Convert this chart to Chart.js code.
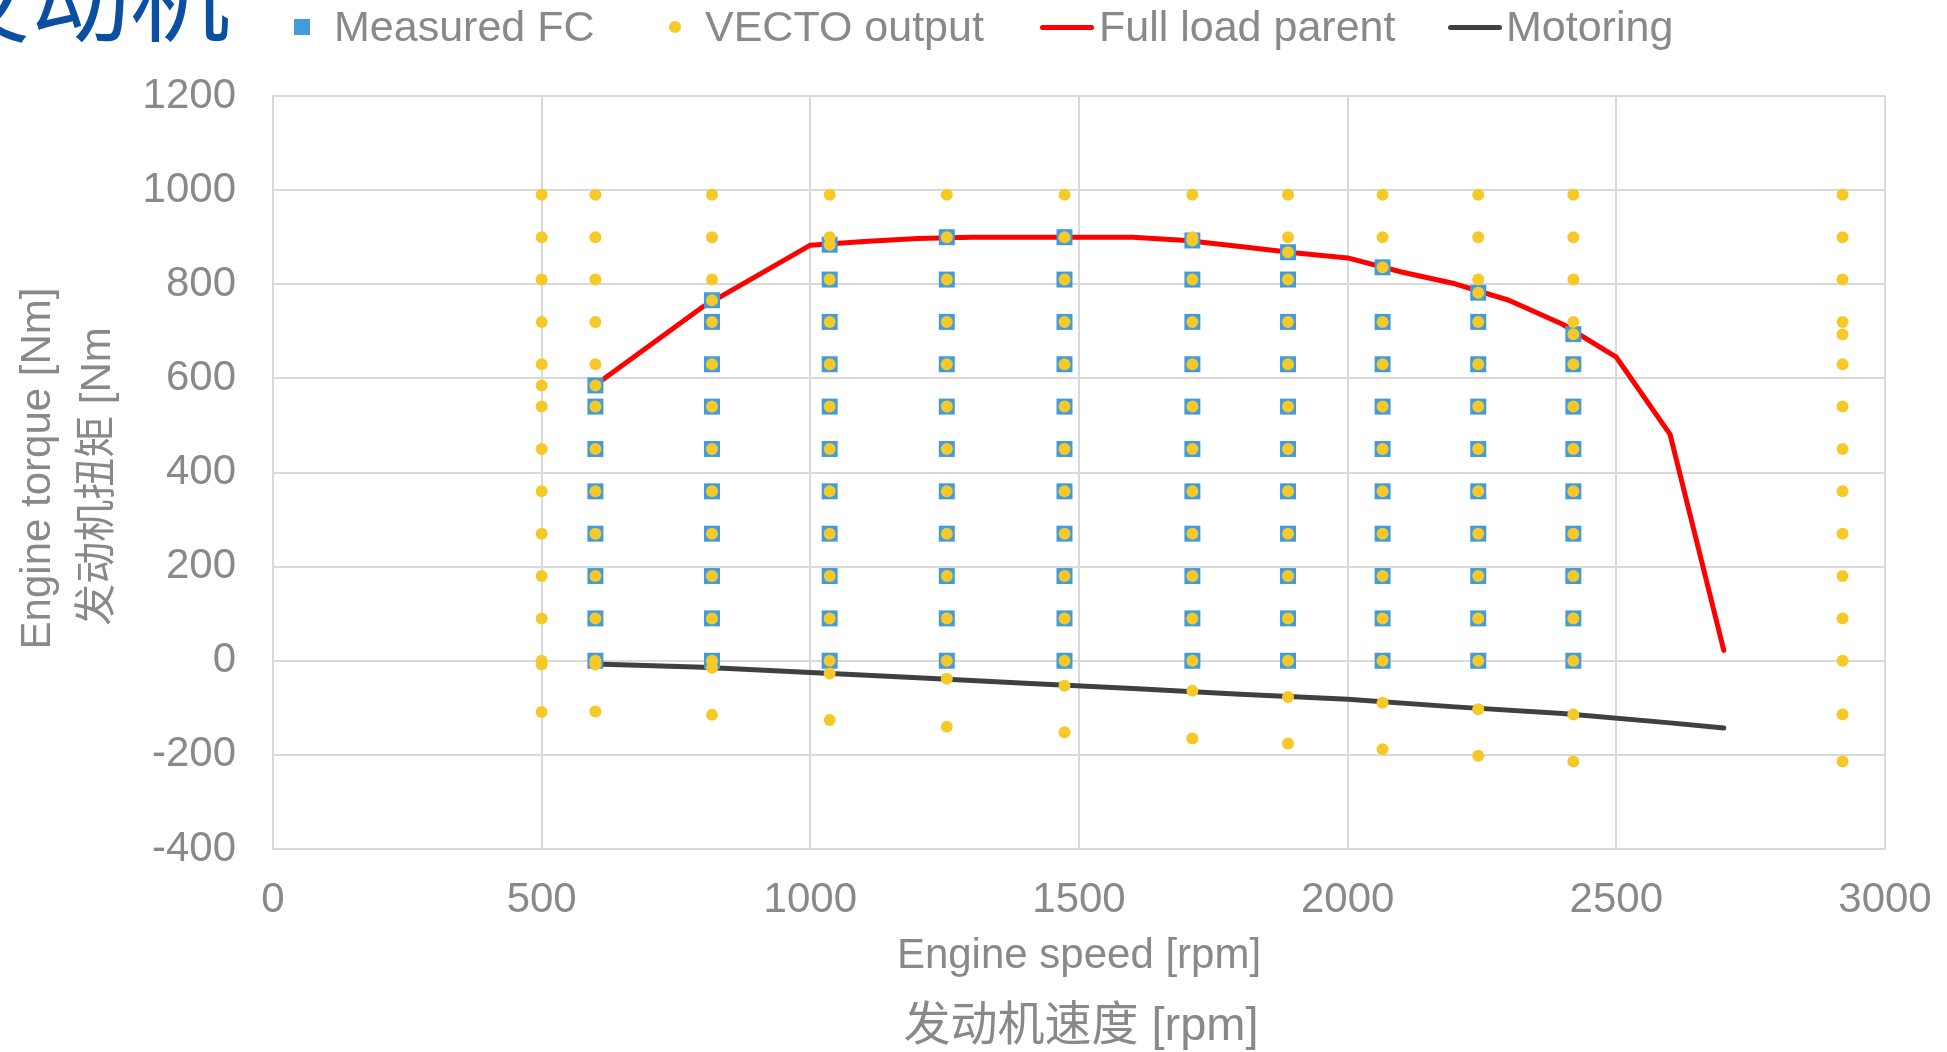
<!DOCTYPE html>
<html>
<head>
<meta charset="utf-8">
<script src="https://cdn.jsdelivr.net/npm/chart.js@4.4.1/dist/chart.umd.min.js"></script>
<style>
  html, body { margin: 0; padding: 0; background: #ffffff; overflow: hidden; }
  #wrap { position: relative; width: 1947px; height: 1052px; overflow: hidden; }
  #c { position: absolute; left: 0; top: 0; }
  .lg { position: absolute; font-family: 'Liberation Sans', Arial, sans-serif; font-size: 43px; line-height: 43px; color: #898989; white-space: nowrap; }
  .mk { position: absolute; }
  #ttl { position: absolute; left: -70px; top: -59px; font-family: 'Noto Sans CJK SC', sans-serif; font-size: 100px; line-height: 100px; color: #0B4FA3; white-space: nowrap; }
</style>
</head>
<body>
<div id="wrap">
  <canvas id="c" width="1947" height="1052"></canvas>
  <div id="ttl">发动机</div>
  <div class="mk" style="left:294px;top:19px;width:16px;height:16px;background:#419BDC;"></div>
  <div class="lg" style="left:334px;top:5px;">Measured FC</div>
  <div class="mk" style="left:669px;top:21px;width:12px;height:12px;border-radius:50%;background:#F6C929;"></div>
  <div class="lg" style="left:705px;top:5px;">VECTO output</div>
  <div class="mk" style="left:1040px;top:25px;width:54px;height:5px;border-radius:3px;background:#FF0000;"></div>
  <div class="lg" style="left:1099px;top:5px;">Full load parent</div>
  <div class="mk" style="left:1448px;top:25px;width:54px;height:5px;border-radius:3px;background:#404040;"></div>
  <div class="lg" style="left:1506px;top:5px;">Motoring</div>
</div>
<script>
// ---- data ----
const vectoSpeeds = [500, 600, 817, 1036, 1254, 1473, 1711, 1889, 2065, 2243, 2420, 2921];
const vectoTorques = [
  [-109, -8, 0, 90, 180, 270, 360, 450, 540, 585, 630, 720, 810, 900, 990],
  [-108, -8, 0, 90, 180, 270, 360, 450, 540, 585, 630, 720, 810, 900, 990],
  [-115, -15, 0, 90, 180, 270, 360, 450, 540, 630, 720, 766, 810, 900, 990],
  [-126, -27, 0, 90, 180, 270, 360, 450, 540, 630, 720, 810, 884, 900, 990],
  [-140, -38, 0, 90, 180, 270, 360, 450, 540, 630, 720, 810, 900, 990],
  [-152, -53, 0, 90, 180, 270, 360, 450, 540, 630, 720, 810, 900, 990],
  [-165, -64, 0, 90, 180, 270, 360, 450, 540, 630, 720, 810, 893, 900, 990],
  [-176, -77, 0, 90, 180, 270, 360, 450, 540, 630, 720, 810, 868, 900, 990],
  [-188, -89, 0, 90, 180, 270, 360, 450, 540, 630, 720, 836, 900, 990],
  [-202, -103, 0, 90, 180, 270, 360, 450, 540, 630, 720, 782, 810, 900, 990],
  [-214, -114, 0, 90, 180, 270, 360, 450, 540, 630, 694, 720, 810, 900, 990],
  [-214, -114, 0, 90, 180, 270, 360, 450, 540, 630, 693, 720, 810, 900, 990]
];
const measuredSpeeds = [600, 817, 1036, 1254, 1473, 1711, 1889, 2065, 2243, 2420];
const measuredTorques = [
  [0, 90, 180, 270, 360, 450, 540, 585],
  [0, 90, 180, 270, 360, 450, 540, 630, 720, 766],
  [0, 90, 180, 270, 360, 450, 540, 630, 720, 810, 884],
  [0, 90, 180, 270, 360, 450, 540, 630, 720, 810, 900],
  [0, 90, 180, 270, 360, 450, 540, 630, 720, 810, 900],
  [0, 90, 180, 270, 360, 450, 540, 630, 720, 810, 893],
  [0, 90, 180, 270, 360, 450, 540, 630, 720, 810, 868],
  [0, 90, 180, 270, 360, 450, 540, 630, 720, 836],
  [0, 90, 180, 270, 360, 450, 540, 630, 720, 782],
  [0, 90, 180, 270, 360, 450, 540, 630, 694]
];
const fullLoadSpeed  = [600, 800, 1000, 1100, 1200, 1300, 1600, 1700, 1800, 1900, 2000, 2100, 2200, 2300, 2400, 2500, 2600, 2700];
const fullLoadTorque = [586, 752, 883, 891, 897, 900, 900, 893, 880, 867, 856, 826, 801, 766, 715, 645, 481, 22];
const motoringSpeed  = [600, 800, 1000, 1200, 1400, 1600, 1800, 2000, 2200, 2400, 2600, 2700];
const motoringTorque = [-7, -14, -25, -36, -48, -59, -71, -82, -98, -112, -132, -143];
const xTicks = [0, 500, 1000, 1500, 2000, 2500, 3000];
const yTicks = [-400, -200, 0, 200, 400, 600, 800, 1000, 1200];
const seriesNames = ['VECTO output', 'Measured FC', 'Full load parent', 'Motoring'];
const xTitle = ['Engine speed [rpm]', '发动机速度 [rpm]'];
const yTitle = ['Engine torque [Nm]', '发动机扭矩 [Nm'];

// ---- build datasets ----
const gridPoints = (speeds, torques) => speeds.flatMap((s, i) => torques[i].map(t => ({ x: s, y: t })));
const linePoints = (xs, ys) => xs.map((x, i) => ({ x: x, y: ys[i] }));

const FONT = "'Liberation Sans', Arial, 'Noto Sans CJK SC', sans-serif";
const GRAY = '#898989';
const GRID = '#D9D9D9';

// axis titles (two lines each, second line in a different size)
const axisTitles = {
  id: 'axisTitles',
  afterDraw(chart) {
    const { ctx, chartArea: a } = chart;
    const cx = (a.left + a.right) / 2;
    const cy = (a.top + a.bottom) / 2;
    ctx.save();
    ctx.fillStyle = GRAY;
    ctx.textAlign = 'center';
    ctx.textBaseline = 'alphabetic';
    ctx.font = "42px " + FONT;
    ctx.fillText(xTitle[0], cx, a.bottom + 119);
    ctx.font = "47px " + FONT;
    ctx.fillText(xTitle[1], cx + 2, a.bottom + 191);
    ctx.translate(0, 0);
    ctx.save();
    ctx.translate(50, cy - 4);
    ctx.rotate(-Math.PI / 2);
    ctx.font = "42px " + FONT;
    ctx.fillText(yTitle[0], 0, 0);
    ctx.restore();
    ctx.save();
    ctx.translate(110, cy + 4);
    ctx.rotate(-Math.PI / 2);
    ctx.font = "42px " + FONT;
    ctx.fillText(yTitle[1], 0, 0);
    ctx.restore();
    ctx.restore();
  }
};

new Chart(document.getElementById('c'), {
  type: 'scatter',
  data: {
    datasets: [
      { label: seriesNames[0], data: gridPoints(vectoSpeeds, vectoTorques),
        pointStyle: 'circle', pointRadius: 6, pointBorderWidth: 0,
        backgroundColor: '#F6C929', borderColor: '#F6C929' },
      { label: seriesNames[1], data: gridPoints(measuredSpeeds, measuredTorques),
        pointStyle: 'rect', pointRadius: 11.3, pointBorderWidth: 0,
        backgroundColor: '#419BDC', borderColor: '#419BDC' },
      { label: seriesNames[2], data: linePoints(fullLoadSpeed, fullLoadTorque),
        showLine: true, pointRadius: 0, borderWidth: 5, borderColor: '#FF0000',
        backgroundColor: '#FF0000', borderCapStyle: 'round', borderJoinStyle: 'round' },
      { label: seriesNames[3], data: linePoints(motoringSpeed, motoringTorque),
        showLine: true, pointRadius: 0, borderWidth: 5, borderColor: '#404040',
        backgroundColor: '#404040', borderCapStyle: 'round', borderJoinStyle: 'round' }
    ]
  },
  options: {
    responsive: false,
    animation: false,
    devicePixelRatio: 1,
    layout: { padding: { left: 0, right: 62, top: 96, bottom: 0 } },
    plugins: { legend: { display: false }, tooltip: { enabled: false } },
    scales: {
      x: {
        type: 'linear', min: xTicks[0], max: xTicks[xTicks.length - 1],
        afterBuildTicks: s => { s.ticks = xTicks.map(v => ({ value: v })); },
        afterFit: s => { s.height = 203; s.paddingLeft = 0; s.paddingRight = 0; s.paddingTop = 0; s.paddingBottom = 0; },
        grid: { color: GRID, lineWidth: 2, drawTicks: false },
        border: { color: GRID, width: 2 },
        ticks: { color: GRAY, font: { family: FONT, size: 42 }, padding: 26, maxRotation: 0,
          callback: v => String(v) }
      },
      y: {
        type: 'linear', min: yTicks[0], max: yTicks[yTicks.length - 1],
        afterBuildTicks: s => { s.ticks = yTicks.map(v => ({ value: v })); },
        afterFit: s => { s.width = 273; s.paddingTop = 0; s.paddingBottom = 0; s.paddingLeft = 0; s.paddingRight = 0; },
        grid: { color: GRID, lineWidth: 2, drawTicks: false },
        border: { color: GRID, width: 2 },
        ticks: { color: GRAY, font: { family: FONT, size: 42 }, padding: 37,
          callback: v => String(v) }
      }
    }
  },
  plugins: [axisTitles]
});
</script>
</body>
</html>
